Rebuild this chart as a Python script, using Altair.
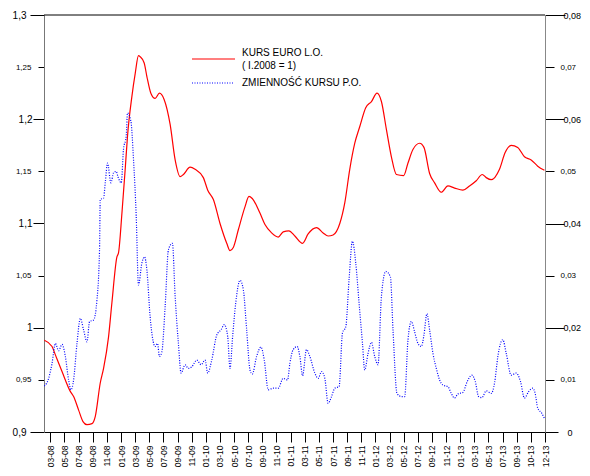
import altair as alt
import pandas as pd

# month index: Jan 2008 = 0
month_ticks = list(range(2, 73, 2))
month_labels = ["03-08", "05-08", "07-08", "09-08", "11-08",
                "01-09", "03-09", "05-09", "07-09", "09-09", "11-09",
                "01-10", "03-10", "05-10", "07-10", "09-10", "11-10",
                "01-11", "03-11", "05-11", "07-11", "09-11", "11-11",
                "01-12", "03-12", "05-12", "07-12", "09-12", "11-12",
                "01-13", "03-13", "05-13", "07-13", "09-13", "10-13", "12-13"]

left_ticks = [0.9, 0.95, 1.0, 1.05, 1.1, 1.15, 1.2, 1.25, 1.3]
right_ticks = [0, 0.01, 0.02, 0.03, 0.04, 0.05, 0.06, 0.07, 0.08]

# KURS EURO (left axis)
red_points = [
    (1.15, 0.988), (2.24, 0.982), (2.71, 0.974), (3.65, 0.958), (4.82, 0.939),
    (5.29, 0.934), (6.00, 0.921), (6.62, 0.910), (7.18, 0.907), (7.89, 0.908),
    (8.36, 0.915), (9.06, 0.947), (9.53, 0.961), (10.23, 0.991), (10.71, 1.024),
    (11.42, 1.068), (11.65, 1.072), (12.13, 1.110), (12.59, 1.152), (12.92, 1.184),
    (13.54, 1.222), (14.01, 1.244), (14.47, 1.261), (14.71, 1.260), (15.28, 1.254),
    (15.66, 1.241), (16.22, 1.225), (16.83, 1.220), (17.44, 1.225), (18.10, 1.219),
    (18.95, 1.195), (19.66, 1.161), (20.36, 1.145), (20.83, 1.147), (21.77, 1.154),
    (22.48, 1.152), (23.65, 1.144), (24.27, 1.132), (25.07, 1.123), (26.01, 1.100),
    (26.96, 1.081), (27.42, 1.074), (27.89, 1.077), (28.60, 1.094), (29.54, 1.116),
    (30.11, 1.126), (30.57, 1.124), (31.66, 1.110), (32.37, 1.099), (33.31, 1.091),
    (34.25, 1.087), (34.95, 1.092), (35.76, 1.093), (36.60, 1.088), (37.69, 1.081),
    (38.48, 1.090), (39.67, 1.096), (40.60, 1.091), (41.31, 1.088), (42.01, 1.089),
    (42.96, 1.100), (43.67, 1.120), (44.37, 1.152), (45.08, 1.177), (45.79, 1.193),
    (46.63, 1.211), (47.44, 1.217), (48.23, 1.225), (48.85, 1.217), (49.56, 1.190),
    (50.26, 1.164), (50.97, 1.147), (52.00, 1.146), (52.61, 1.158), (53.31, 1.171),
    (54.26, 1.177), (54.87, 1.173), (55.67, 1.148), (56.38, 1.139), (57.32, 1.130),
    (58.26, 1.136), (59.20, 1.134), (60.38, 1.132), (61.32, 1.136), (62.27, 1.141),
    (63.12, 1.147), (63.68, 1.144), (64.39, 1.142), (65.56, 1.152), (66.36, 1.168),
    (67.21, 1.175), (68.14, 1.173), (69.09, 1.164), (70.04, 1.161), (70.97, 1.155),
    (71.92, 1.151),
]

# ZMIENNOSC KURSU (right axis)
blue_points = [
    (1.15, 0.0088), (1.76, 0.0103), (2.24, 0.0132), (2.71, 0.0170), (3.17, 0.0156),
    (3.65, 0.0168), (4.12, 0.0145), (4.58, 0.0100), (4.92, 0.0081), (5.29, 0.0100),
    (5.77, 0.0170), (6.24, 0.0218), (6.70, 0.0196), (7.18, 0.0173), (7.55, 0.0212),
    (8.12, 0.0215), (8.60, 0.0254), (8.96, 0.0350), (9.06, 0.0446), (9.53, 0.0449),
    (9.77, 0.0478), (10.09, 0.0516), (10.57, 0.0478), (10.94, 0.0497), (11.32, 0.0500),
    (11.56, 0.0490), (12.03, 0.0478), (12.35, 0.0542), (12.73, 0.0567), (12.92, 0.0612),
    (13.40, 0.0596), (13.77, 0.0522), (14.15, 0.0414), (14.47, 0.0282), (14.95, 0.0324),
    (15.32, 0.0336), (15.66, 0.0311), (16.12, 0.0221), (16.83, 0.0164), (17.16, 0.0170),
    (17.44, 0.0145), (17.78, 0.0154), (18.24, 0.0240), (18.71, 0.0350), (19.27, 0.0362),
    (19.66, 0.0260), (20.12, 0.0170), (20.50, 0.0113), (21.07, 0.0129), (21.53, 0.0122),
    (22.01, 0.0125), (22.72, 0.0138), (23.33, 0.0129), (23.89, 0.0138), (24.27, 0.0113),
    (24.84, 0.0138), (25.55, 0.0186), (26.15, 0.0196), (26.62, 0.0206), (27.10, 0.0183),
    (27.42, 0.0122), (27.81, 0.0186), (28.23, 0.0247), (28.84, 0.0291), (29.31, 0.0273),
    (29.78, 0.0196), (30.25, 0.0119), (30.57, 0.0111), (31.19, 0.0145), (31.80, 0.0163),
    (32.27, 0.0138), (32.83, 0.0081), (33.54, 0.0084), (34.25, 0.0084), (34.95, 0.0103),
    (35.57, 0.0100), (35.90, 0.0132), (36.36, 0.0158), (36.93, 0.0164), (37.31, 0.0145),
    (37.69, 0.0108), (38.25, 0.0158), (38.72, 0.0145), (39.43, 0.0113), (39.90, 0.0103),
    (40.38, 0.0116), (40.84, 0.0103), (41.31, 0.0055), (41.79, 0.0068), (42.25, 0.0084),
    (42.86, 0.0087), (43.34, 0.0190), (43.81, 0.0202), (44.27, 0.0292), (44.75, 0.0366),
    (45.22, 0.0324), (45.69, 0.0247), (46.17, 0.0170), (46.49, 0.0119), (46.96, 0.0151),
    (47.44, 0.0172), (47.90, 0.0145), (48.37, 0.0129), (48.85, 0.0260), (49.46, 0.0308),
    (50.12, 0.0298), (50.49, 0.0196), (51.05, 0.0074), (51.68, 0.0068), (52.14, 0.0068),
    (52.61, 0.0177), (53.09, 0.0212), (53.55, 0.0192), (54.02, 0.0170), (54.50, 0.0164),
    (54.87, 0.0186), (55.29, 0.0227), (55.67, 0.0196), (56.14, 0.0151), (56.62, 0.0122),
    (57.08, 0.0100), (57.55, 0.0090), (58.26, 0.0087), (58.74, 0.0074), (59.20, 0.0065),
    (59.67, 0.0073), (60.38, 0.0076), (61.00, 0.0097), (61.65, 0.0109), (62.13, 0.0097),
    (62.60, 0.0068), (63.07, 0.0066), (63.69, 0.0079), (64.39, 0.0074), (64.86, 0.0094),
    (65.33, 0.0145), (65.70, 0.0170), (66.03, 0.0177), (66.51, 0.0151), (67.21, 0.0109),
    (67.92, 0.0113), (68.53, 0.0097), (69.09, 0.0065), (69.66, 0.0077), (70.27, 0.0084),
    (70.61, 0.0074), (70.97, 0.0046), (71.54, 0.0036), (71.92, 0.0026),
]

legend_text_1 = "KURS EURO L.O."
legend_text_2 = "( I.2008 = 1)"
legend_text_3 = "ZMIENNOŚĆ KURSU P.O."

FONT = "Liberation Sans"

red_df = pd.DataFrame(red_points, columns=["t", "v"])
blue_df = pd.DataFrame(blue_points, columns=["t", "v"])
one = pd.DataFrame({"a": [0]})

label_js = "[" + ",".join("'" + s + "'" for s in month_labels) + "]"
x_axis = alt.Axis(values=month_ticks,
                  labelExpr=label_js + "[round((datum.value-2)/2)]",
                  labelAngle=270, tickSize=10, labelPadding=3, labelFontSize=8.5,
                  labelOverlap=False, labelFlush=False, grid=False, title=None,
                  domainColor="black", tickColor="black", labelColor="black",
                  labelFont=FONT)
x_scale = alt.Scale(domain=[1.1, 72], nice=False, zero=False)

edge_l = "datum.value < 0.91 || datum.value > 1.29"
major_l = "abs(datum.value*10 - round(datum.value*10)) < 0.001"
left_axis = alt.Axis(
    orient="left", values=left_ticks, title=None, grid=False,
    labelExpr="replace(toString(datum.value), '.', ',')",
    domainColor="#777", tickColor="black", labelColor="black", labelFont=FONT,
    tickSize={"condition": [{"test": edge_l, "value": 14},
                            {"test": major_l, "value": 11}], "value": 6},
    labelPadding={"condition": [{"test": edge_l, "value": 4},
                                {"test": major_l, "value": 1}], "value": 7},
    labelFontSize={"condition": {"test": major_l, "value": 10}, "value": 8},
)

edge_top = "datum.value > 0.079"
edge_bot = "datum.value < 0.001"
major_r = "abs(datum.value*50 - round(datum.value*50)) < 0.001"
right_axis = alt.Axis(
    orient="right", values=right_ticks, title=None, grid=False,
    labelExpr="replace(toString(datum.value), '.', ',')",
    domainColor="#888", tickColor="black", labelColor="black", labelFont=FONT,
    tickSize={"condition": [{"test": edge_top, "value": 20},
                            {"test": edge_bot, "value": 13},
                            {"test": major_r, "value": 19}], "value": 9},
    labelPadding={"condition": [{"test": edge_top, "value": -2},
                                {"test": edge_bot, "value": 9},
                                {"test": major_r, "value": -1}], "value": 6},
    labelFontSize={"condition": {"test": major_r, "value": 9}, "value": 8},
)

red = alt.Chart(red_df).mark_line(color="#ff0000", strokeWidth=1.2, interpolate="monotone").encode(
    x=alt.X("t:Q", scale=x_scale, axis=x_axis),
    y=alt.Y("v:Q", scale=alt.Scale(domain=[0.9, 1.3], nice=False, zero=False), axis=left_axis),
)
blue = alt.Chart(blue_df).mark_line(color="#0000ff", strokeWidth=1.2, strokeDash=[1, 1.5],
                                    interpolate="monotone").encode(
    x=alt.X("t:Q", scale=x_scale, axis=x_axis),
    y=alt.Y("v:Q", scale=alt.Scale(domain=[0, 0.08], nice=False, zero=False), axis=right_axis),
)

# top frame line of the plot
top_line = alt.Chart(one).mark_rule(color="black", strokeWidth=1).encode(
    x=alt.value(0), x2=alt.value(501), y=alt.value(0))

leg_red = alt.Chart(one).mark_rule(color="#ff0000", strokeWidth=1.2).encode(
    x=alt.value(148), x2=alt.value(191), y=alt.value(44))
leg_blue = alt.Chart(one).mark_rule(color="#0000ff", strokeWidth=1.2, strokeDash=[1, 1.5]).encode(
    x=alt.value(148), x2=alt.value(189), y=alt.value(68))
txt_kw = dict(align="left", baseline="middle", font=FONT, fontSize=10, color="black")
t1 = alt.Chart(one).mark_text(**txt_kw).encode(x=alt.value(198), y=alt.value(38), text=alt.value(legend_text_1))
t2 = alt.Chart(one).mark_text(**txt_kw).encode(x=alt.value(198), y=alt.value(51), text=alt.value(legend_text_2))
t3 = alt.Chart(one).mark_text(**txt_kw).encode(x=alt.value(198), y=alt.value(68), text=alt.value(legend_text_3))

chart = alt.layer(red, blue, top_line, leg_red, leg_blue, t1, t2, t3).resolve_scale(
    y="independent"
).properties(
    width=501, height=417,
    padding={"left": 36, "top": 7, "right": 37, "bottom": 36},
    autosize=alt.AutoSizeParams(type="none"),
    background="white",
).configure_view(stroke="transparent", strokeWidth=0)

chart.save("out.html", embed_options={"renderer": "svg", "actions": False})
